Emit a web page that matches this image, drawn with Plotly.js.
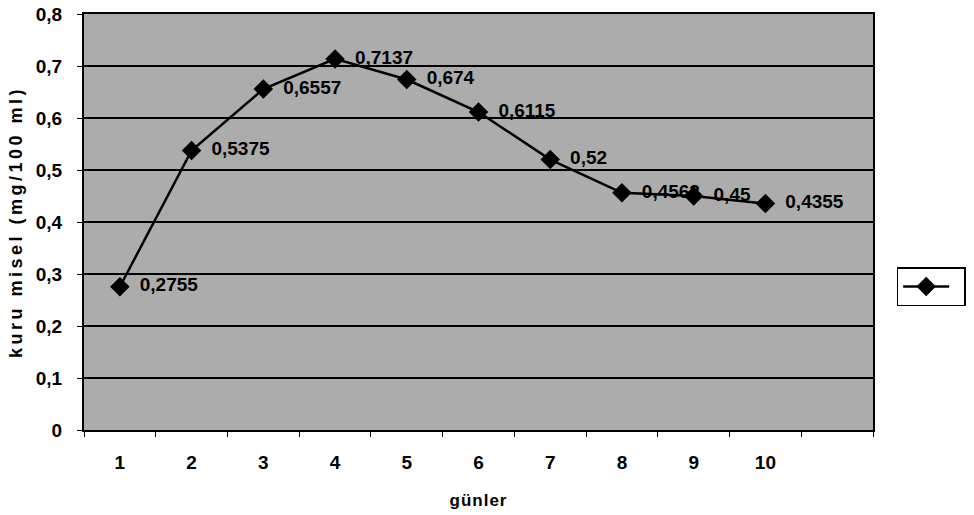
<!DOCTYPE html>
<html><head><meta charset="utf-8">
<script src="https://cdn.plot.ly/plotly-3.0.1.min.js"></script>
<style>
body{margin:0;background:#fff}#c{width:974px;height:515px}
.ytitle{letter-spacing:3.5px}
.xtitle{letter-spacing:1px}
</style>
</head><body><div id="c"></div>
<script>
const days = ['1','2','3','4','5','6','7','8','9','10'];
const values = [0.2755, 0.5375, 0.6557, 0.7137, 0.674, 0.6115, 0.52, 0.4562, 0.45, 0.4355];
const labels = ['0,2755','0,5375','0,6557','0,7137','0,674','0,6115','0,52','0,4562','0,45','0,4355'];
const cats = days.concat([' ']);

const trace = {
  x: days, y: values, type: 'scatter', mode: 'lines+markers+text',
  text: labels.map(s => '\u2002' + s), textposition: 'middle right',
  textfont: {family: 'Liberation Sans, Arial, sans-serif', size: 19, color: '#000', weight: 'bold'},
  line: {color: '#000', width: 2.5},
  marker: {symbol: 'diamond', size: 15, color: '#000'},
  name: ' ', showlegend: true, cliponaxis: false
};
const layout = {
  width: 974, height: 515,
  margin: {l: 84, r: 101, t: 14, b: 85, autoexpand: false},
  paper_bgcolor: '#fff', plot_bgcolor: '#acacac',
  separators: ',.',
  font: {family: 'Liberation Sans, Arial, sans-serif', size: 17, color: '#000', weight: 'bold'},
  xaxis: {
    type: 'category', categoryorder: 'array', categoryarray: cats,
    range: [-0.5, 10.5], tickson: 'boundaries', ticks: 'outside', ticklen: 5, tickcolor: '#000',
    showgrid: false, showline: true, linecolor: '#000', linewidth: 2, mirror: true,
    ticklabelstandoff: 14,
    tickfont: {size: 19, weight: 'bold'},
    title: {text: 'günler', font: {size: 17, weight: 'bold'}, standoff: 22}
  },
  yaxis: {
    range: [0, 0.8], dtick: 0.1, ticks: 'outside', ticklen: 5, tickcolor: '#000',
    showgrid: true, gridcolor: '#000', gridwidth: 1.2, zeroline: false,
    showline: true, linecolor: '#000', linewidth: 2, mirror: true,
    ticklabelstandoff: 11,
    tickfont: {size: 19, weight: 'bold'},
    title: {text: 'kuru misel (mg/100 ml)', font: {size: 18, weight: 'bold'}, standoff: 8}
  },
  legend: {x: 1.03, y: 0.344, xanchor: 'left', yanchor: 'middle',
    bordercolor: '#000', borderwidth: 1.5, bgcolor: '#fff', itemwidth: 46},
  showlegend: true
};
Plotly.newPlot('c', [trace], layout, {displayModeBar: false, staticPlot: true});
</script></body></html>
